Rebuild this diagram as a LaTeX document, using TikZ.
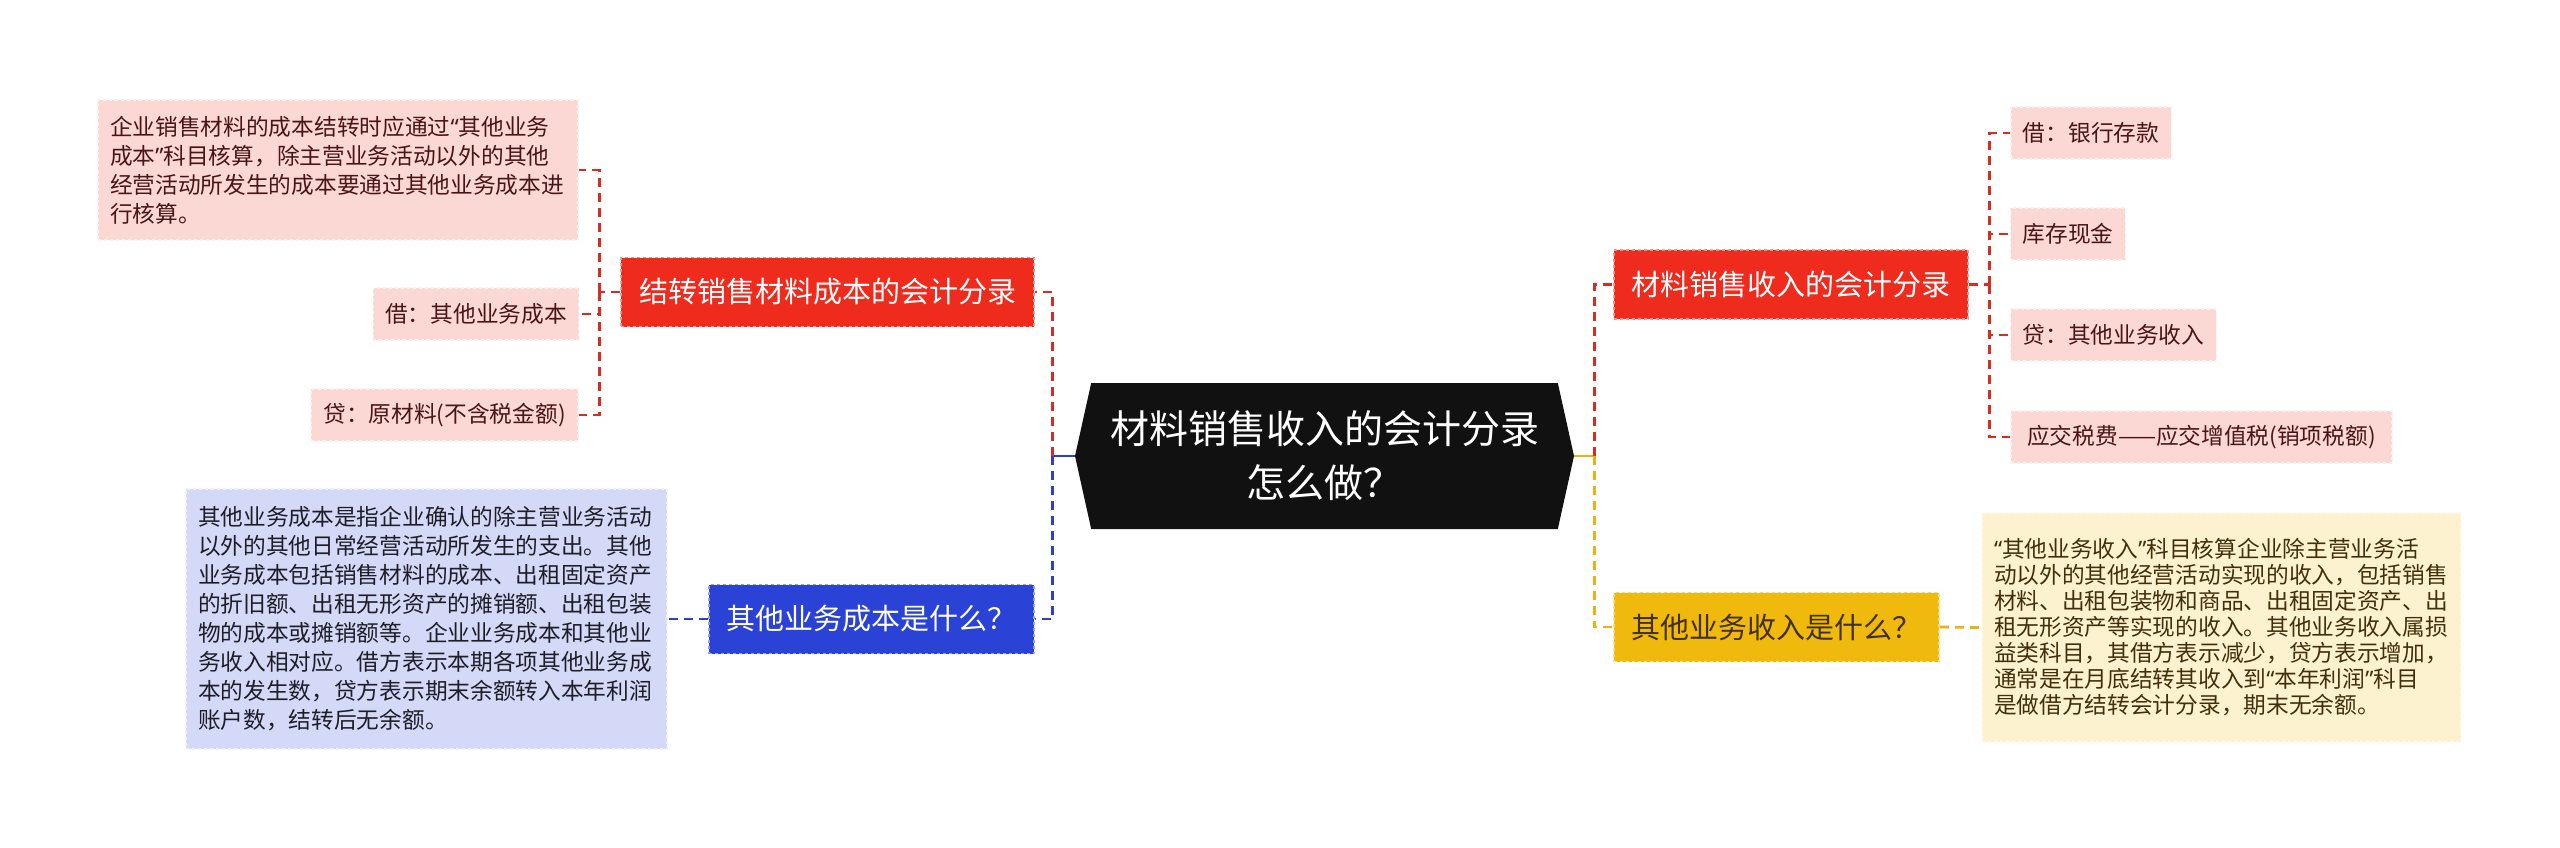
\documentclass[tikz,border=0pt]{standalone}
\usepackage{fontspec}
\newfontfamily\cjk{Noto Sans CJK SC}
\newfontfamily\latinq{Noto Sans}
\newcommand\qopen{{\latinq “}}
\newcommand\qclose{{\latinq ”}}
\usetikzlibrary{shapes.symbols}
\definecolor{redmain}{RGB}{238,43,28}
\definecolor{bluemain}{RGB}{42,66,214}
\definecolor{yellowmain}{RGB}{240,185,14}
\definecolor{redleaf}{RGB}{252,216,213}
\definecolor{blueleaf}{RGB}{212,217,247}
\definecolor{yellowleaf}{RGB}{253,242,207}
\definecolor{redlink}{RGB}{214,44,34}
\definecolor{bluelink}{RGB}{44,64,204}
\definecolor{yellowlink}{RGB}{236,178,18}
\definecolor{redtext}{RGB}{72,22,22}
\definecolor{bluetext}{RGB}{30,30,40}
\definecolor{yellowtext}{RGB}{66,48,10}

\begin{document}
\begin{tikzpicture}[x=1pt,y=-1pt,
    root/.style={shape=signal,signal to=west and east,signal pointer angle=155,fill={rgb,255:red,17;green,17;blue,17},text=white,minimum width=499,minimum height=146,inner sep=0,align=center,font=\cjk\fontsize{39}{54}\selectfont},
    topic/.style={rectangle,dashed,line width=1.5,text=white,minimum height=69,inner sep=0,font=\cjk\fontsize{29}{34}\selectfont},
    leaf/.style={rectangle,dashed,line width=1.2,minimum height=52,inner xsep=12,inner ysep=0,font=\cjk\fontsize{22.7}{29}\selectfont},
    link/.style={line width=2.8,dash pattern=on 9pt off 6pt}]
                \useasboundingbox (0,0) rectangle (2560,847);
                \node[root] (root) at (1324.5,456) {材料销售收入的会计分录\\怎么做？};
                \node[topic,fill=redmain,draw=redmain!50!white,minimum width=413] (cost) at (827.5,292) {结转销售材料成本的会计分录};
                \node[topic,fill=bluemain,draw=bluemain!50!white,minimum width=325] (costq) at (871.5,619) {其他业务成本是什么？};
                \node[topic,fill=redmain,draw=redmain!50!white,minimum width=354] (income) at (1791,284.5) {材料销售收入的会计分录};
                \node[topic,fill=yellowmain,draw=yellowmain!50!white,text=yellowtext,minimum width=325] (incomeq) at (1776.5,627) {其他业务收入是什么？};
                \node[leaf,fill=redleaf,draw=redleaf!40!white,text=redtext,text width=456,minimum height=140,align=left] (costnote) at (338,170) {企业销售材料的成本结转时应通过\qopen 其他业务\\成本\qclose 科目核算，除主营业务活动以外的其他\\经营活动所发生的成本要通过其他业务成本进\\行核算。};
                \node[leaf,fill=redleaf,draw=redleaf!40!white,text=redtext,minimum width=204] (costdebit) at (476,314) {借：其他业务成本};
                \node[leaf,fill=redleaf,draw=redleaf!40!white,text=redtext,minimum width=267] (costcredit) at (444.5,415) {贷：原材料(不含税金额)};
                \node[leaf,fill=blueleaf,draw=blueleaf!40!white,text=bluetext,text width=457,minimum height=260,align=left] (costqnote) at (426.5,619) {其他业务成本是指企业确认的除主营业务活动\\以外的其他日常经营活动所发生的支出。其他\\业务成本包括销售材料的成本、出租固定资产\\的折旧额、出租无形资产的摊销额、出租包装\\物的成本或摊销额等。企业业务成本和其他业\\务收入相对应。借方表示本期各项其他业务成\\本的发生数，贷方表示期末余额转入本年利润\\账户数，结转后无余额。};
                \node[leaf,fill=redleaf,draw=redleaf!40!white,text=redtext,minimum width=160] (bank) at (2091,133) {借：银行存款};
                \node[leaf,fill=redleaf,draw=redleaf!40!white,text=redtext,minimum width=114] (cash) at (2068,234) {库存现金};
                \node[leaf,fill=redleaf,draw=redleaf!40!white,text=redtext,minimum width=205] (otherincome) at (2113.5,335) {贷：其他业务收入};
                \node[leaf,fill=redleaf,draw=redleaf!40!white,text=redtext,minimum width=381] (vat) at (2201.5,437) {应交税费——应交增值税(销项税额)};
                \node[leaf,fill=yellowleaf,draw=yellowleaf!40!white,text=yellowtext,text width=455,minimum height=229,align=left,font=\cjk\fontsize{22.7}{26}\selectfont] (incomeqnote) at (2221.5,627.5) {\qopen 其他业务收入\qclose 科目核算企业除主营业务活\\动以外的其他经营活动实现的收入，包括销售\\材料、出租包装物和商品、出租固定资产、出\\租无形资产等实现的收入。其他业务收入属损\\益类科目，其借方表示减少，贷方表示增加，\\通常是在月底结转其收入到\qopen 本年利润\qclose 科目\\是做借方结转会计分录，期末无余额。};
                \draw[link,bluelink,solid] (root.west) -- ++(-22,0) coordinate (lj);
                \draw[link,redlink] (lj) |- (cost.east);
                \draw[link,bluelink] (lj) |- (costq.east);
                \draw[link,yellowlink,solid] (root.east) -- ++(20,0) coordinate (rj);
                \draw[link,redlink] (rj) |- (income.west);
                \draw[link,yellowlink] (rj) |- (incomeq.west);
                \draw[link,redlink] (cost.west) -- ++(-21,0) coordinate (cj);
                \foreach \leafname in {costnote,costdebit,costcredit}
                    \draw[link,redlink] (cj) |- (\leafname.east);
                \draw[link,redlink] (income.east) -- ++(21,0) coordinate (ij);
                \foreach \leafname in {bank,cash,otherincome,vat}
                    \draw[link,redlink] (ij) |- (\leafname.west);
                \draw[link,bluelink] (costq.west) -- (costqnote.east);
                \draw[link,yellowlink] (incomeq.east) -- (incomeqnote.west);
            \end{tikzpicture}
\end{document}
